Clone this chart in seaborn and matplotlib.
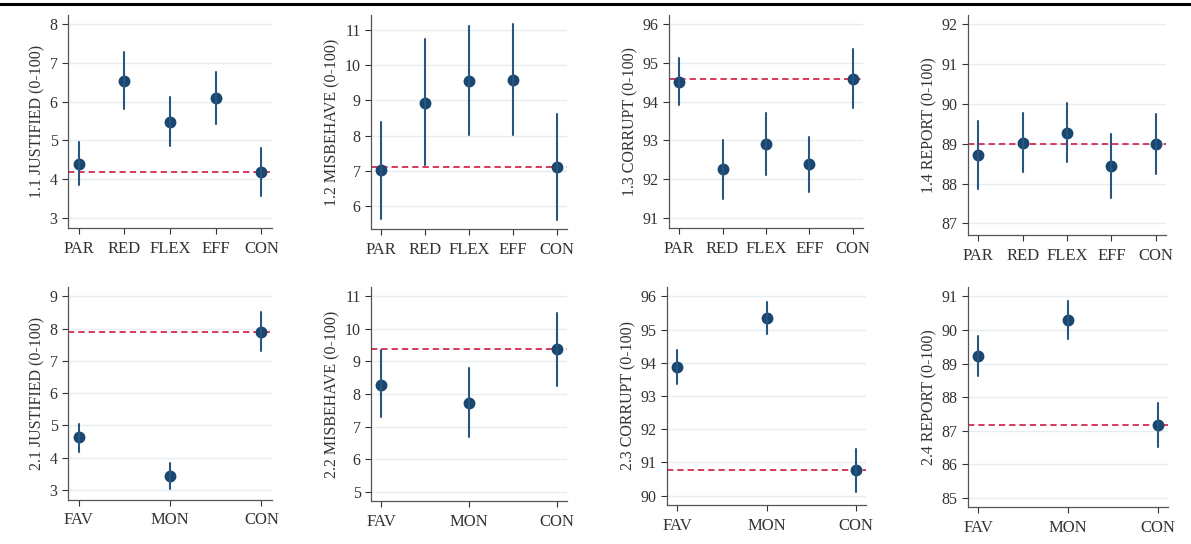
import pandas as pd
import seaborn as sns
import matplotlib.pyplot as plt
from matplotlib.lines import Line2D

# treatment groups
treat_1 = ["PAR", "RED", "FLEX", "EFF", "CON"]
treat_2 = ["FAV", "MON", "CON"]

# panel 1.x : estimate, lower and upper bound of the interval
just1_est = [4.39, 6.52, 5.47, 6.08, 4.18]
just1_lo = [3.84, 5.81, 4.85, 5.41, 3.56]
just1_hi = [4.95, 7.27, 6.12, 6.75, 4.80]

misb1_est = [7.02, 8.94, 9.56, 9.58, 7.12]
misb1_lo = [5.63, 7.16, 8.03, 8.01, 5.61]
misb1_hi = [8.38, 10.74, 11.11, 11.16, 8.61]

corr1_est = [94.52, 92.26, 92.91, 92.38, 94.60]
corr1_lo = [93.91, 91.50, 92.10, 91.67, 93.84]
corr1_hi = [95.12, 93.02, 93.71, 93.08, 95.36]

rep1_est = [88.72, 89.03, 89.28, 88.44, 88.99]
rep1_lo = [87.87, 88.28, 88.54, 87.63, 88.24]
rep1_hi = [89.58, 89.77, 90.02, 89.24, 89.75]

# panel 2.x
just2_est = [4.63, 3.44, 7.90]
just2_lo = [4.19, 3.02, 7.30]
just2_hi = [5.06, 3.85, 8.52]

misb2_est = [8.29, 7.73, 9.37]
misb2_lo = [7.28, 6.69, 8.25]
misb2_hi = [9.34, 8.80, 10.50]

corr2_est = [93.88, 95.34, 90.77]
corr2_lo = [93.37, 94.86, 90.12]
corr2_hi = [94.39, 95.82, 91.42]

rep2_est = [89.22, 90.31, 87.18]
rep2_lo = [88.63, 89.74, 86.52]
rep2_hi = [89.82, 90.86, 87.83]

labels = ["1.1 JUSTIFIED (0-100)", "1.2 MISBEHAVE (0-100)", "1.3 CORRUPT (0-100)", "1.4 REPORT (0-100)",
          "2.1 JUSTIFIED (0-100)", "2.2 MISBEHAVE (0-100)", "2.3 CORRUPT (0-100)", "2.4 REPORT (0-100)"]

panels = [
    (treat_1, just1_est, just1_lo, just1_hi, range(3, 9), (2.74, 8.23)),
    (treat_1, misb1_est, misb1_lo, misb1_hi, range(6, 12), (5.36, 11.42)),
    (treat_1, corr1_est, corr1_lo, corr1_hi, range(91, 97), (90.74, 96.24)),
    (treat_1, rep1_est, rep1_lo, rep1_hi, range(87, 93), (86.71, 92.23)),
    (treat_2, just2_est, just2_lo, just2_hi, range(3, 10), (2.69, 9.29)),
    (treat_2, misb2_est, misb2_lo, misb2_hi, range(5, 12), (4.71, 11.29)),
    (treat_2, corr2_est, corr2_lo, corr2_hi, range(90, 97), (89.72, 96.28)),
    (treat_2, rep2_est, rep2_lo, rep2_hi, range(85, 92), (84.73, 91.28)),
]

# axes boxes in pixels: left, right, top, bottom
boxes = [(68, 272, 15, 228), (371, 567, 15, 229), (669, 863, 15, 228), (968, 1166, 15, 235),
         (68, 272, 287, 500), (371, 567, 287, 501), (667, 866, 287, 505), (968, 1168, 287, 507)]

sns.set_style("white")
plt.rcParams['font.family'] = ['Liberation Serif', 'DejaVu Serif']

W, H = 1191, 544
fig = plt.figure(figsize=(W / 100, H / 100), dpi=100)

navy = "#1a476f"
red = "#d52a50"

for (cats, est, lo, hi, yt, ylim), lab, (l, r, t, b) in zip(panels, labels, boxes):
    ax = fig.add_axes([l / W, 1 - b / H, (r - l) / W, (b - t) / H])
    df = pd.DataFrame({
        "group": cats * 3,
        "value": est + lo + hi,
    })
    sns.pointplot(data=df, x="group", y="value", order=cats,
                  estimator="median", errorbar=lambda v: (v.min(), v.max()),
                  color=navy, markers="o", linestyle="none", markersize=6.5,
                  err_kws={"linewidth": 1.5, "color": "#285680"}, ax=ax, zorder=3)
    ax.axhline(est[-1], color=red, lw=1.3, ls=(0, (3.5, 2.2)), zorder=2)

    n = len(cats)
    pad = 0.23 if n == 5 else 0.115
    ax.set_xlim(-pad, n - 1 + pad)
    ax.set_ylim(*ylim)
    ax.set_yticks(list(yt))
    ax.yaxis.grid(True, color="#e4edf0", lw=1)
    ax.set_axisbelow(True)

    ax.set_xlabel("")
    ax.set_ylabel(lab, fontsize=11.5, color="#333333", labelpad=3)
    ax.tick_params(axis="both", colors="#333333", length=4, width=0.8,
                   left=True, bottom=True)
    ax.tick_params(axis="y", labelsize=11.5)
    ax.tick_params(axis="x", labelsize=12, pad=5)
    for s in ["top", "right"]:
        ax.spines[s].set_visible(False)
    for s in ["left", "bottom"]:
        ax.spines[s].set_color("#555555")
        ax.spines[s].set_linewidth(0.9)

# black rule at the top of the figure
fig.add_artist(Line2D([0, 1], [1 - 3.5 / H, 1 - 3.5 / H], color="black", lw=2.2))

plt.savefig("out.png", dpi=100)
